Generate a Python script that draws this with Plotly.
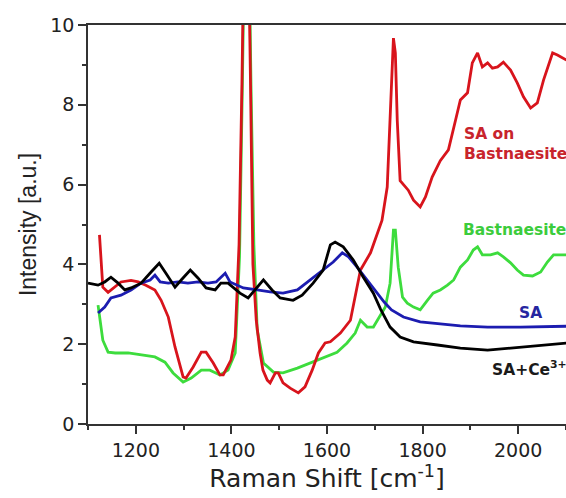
import plotly.graph_objects as go

# SA on Bastnaesite (red)
red_x = [1124, 1131, 1142, 1169, 1190, 1205, 1221, 1240, 1253, 1268, 1282, 1293, 1299, 1305, 1320, 1337, 1347,
         1362, 1376, 1383, 1399, 1408, 1416, 1422, 1431, 1440, 1445, 1452, 1460, 1466, 1475, 1481, 1492, 1498,
         1508, 1523, 1540, 1554, 1569, 1582, 1596, 1607, 1628, 1649, 1663, 1670, 1691, 1705, 1715, 1726, 1732,
         1737, 1739, 1743, 1747, 1753, 1760, 1770, 1781, 1795, 1806, 1820, 1837, 1854, 1869, 1879, 1894, 1904,
         1915, 1925, 1936, 1946, 1957, 1969, 1984, 1998, 2011, 2026, 2040, 2053, 2072, 2082, 2101]
red_y = [4.74, 3.43, 3.3, 3.56, 3.6, 3.56, 3.48, 3.36, 3.1, 2.68, 1.93, 1.43, 1.18, 1.15, 1.43, 1.8, 1.8,
         1.53, 1.23, 1.23, 1.6, 2.18, 4.5, 8.5, 16.0, 8.5, 4.0, 2.6, 1.78, 1.35, 1.1, 1.03, 1.28, 1.28,
         1.03, 0.9, 0.78, 0.93, 1.35, 1.78, 2.03, 2.06, 2.28, 2.6, 3.43, 3.86, 4.29, 4.79, 5.1, 5.94, 7.6,
         9.3, 9.67, 9.3, 7.6, 6.1, 5.99, 5.86, 5.61, 5.44, 5.69, 6.19, 6.6, 6.87, 7.62, 8.12, 8.3, 9.05,
         9.3, 8.95, 9.05, 8.92, 8.95, 9.07, 8.87, 8.55, 8.2, 7.92, 8.05, 8.62, 9.3, 9.25, 9.12]

# Bastnaesite (green)
green_x = [1121, 1125, 1131, 1142, 1157, 1184, 1211, 1240, 1261, 1278, 1299, 1316, 1337, 1355, 1376, 1393,
           1408, 1417, 1423, 1432, 1441, 1447, 1454, 1467, 1488, 1508, 1538, 1565, 1592, 1621, 1642, 1659,
           1670, 1684, 1697, 1712, 1722, 1732, 1739, 1743, 1749, 1758, 1768, 1781, 1795, 1810, 1822, 1837,
           1852, 1865, 1879, 1894, 1906, 1915, 1925, 1942, 1957, 1969, 1984, 1998, 2011, 2030, 2047, 2061,
           2074, 2101]
green_y = [2.98, 2.6, 2.1, 1.8, 1.78, 1.78, 1.73, 1.68, 1.55, 1.28, 1.05, 1.15, 1.35, 1.35, 1.23, 1.35,
           1.78, 4.2, 8.5, 16.0, 8.5, 4.5, 2.36, 1.53, 1.3, 1.28, 1.4, 1.53, 1.68, 1.8, 2.03, 2.28,
           2.6, 2.43, 2.43, 2.73, 2.93, 3.53, 4.86, 4.86, 3.93, 3.18, 3.03, 2.93, 2.86, 3.1, 3.28, 3.36,
           3.48, 3.61, 3.93, 4.11, 4.36, 4.44, 4.24, 4.24, 4.29, 4.19, 4.04, 3.86, 3.73, 3.71, 3.81, 4.06,
           4.24, 4.24]

# SA (blue)
blue_x = [1121, 1135, 1148, 1169, 1190, 1211, 1230, 1240, 1251, 1268, 1288, 1309, 1330, 1351, 1368, 1387,
          1397, 1414, 1425, 1454, 1481, 1508, 1538, 1565, 1592, 1613, 1632, 1645, 1663, 1684, 1705, 1720,
          1735, 1760, 1795, 1831, 1879, 1936, 2005, 2101]
blue_y = [2.78, 2.93, 3.16, 3.23, 3.36, 3.53, 3.61, 3.73, 3.56, 3.53, 3.56, 3.53, 3.56, 3.53, 3.56, 3.78,
          3.56, 3.48, 3.41, 3.36, 3.31, 3.28, 3.36, 3.61, 3.86, 4.06, 4.29, 4.19, 3.93, 3.61, 3.3, 3.05,
          2.86, 2.68, 2.56, 2.51, 2.46, 2.43, 2.43, 2.45]

# SA + Ce3+ (black)
black_x = [1100, 1121, 1135, 1148, 1163, 1177, 1190, 1211, 1232, 1249, 1263, 1282, 1295, 1314, 1330, 1347,
           1366, 1378, 1393, 1418, 1435, 1450, 1467, 1485, 1502, 1529, 1548, 1571, 1592, 1607, 1617, 1634,
           1655, 1676, 1697, 1712, 1732, 1753, 1781, 1831, 1879, 1936, 2005, 2101]
black_y = [3.53, 3.48, 3.56, 3.68, 3.53, 3.36, 3.41, 3.53, 3.81, 4.03, 3.78, 3.43, 3.61, 3.86, 3.66, 3.41,
           3.36, 3.53, 3.53, 3.28, 3.16, 3.36, 3.61, 3.36, 3.16, 3.1, 3.23, 3.53, 3.86, 4.49, 4.56, 4.44,
           4.11, 3.68, 3.28, 2.88, 2.43, 2.18, 2.06, 1.98, 1.9, 1.85, 1.93, 2.03]

x_ticks = [1200, 1400, 1600, 1800, 2000]
y_ticks = [0, 2, 4, 6, 8, 10]

fig = go.Figure()
fig.add_trace(go.Scatter(x=green_x, y=green_y, mode="lines", line=dict(color="#3ddc3d", width=2.8), name="Bastnaesite"))
fig.add_trace(go.Scatter(x=red_x, y=red_y, mode="lines", line=dict(color="#d8141c", width=2.8), name="SA on Bastnaesite"))
fig.add_trace(go.Scatter(x=blue_x, y=blue_y, mode="lines", line=dict(color="#1c1cb0", width=2.8), name="SA"))
fig.add_trace(go.Scatter(x=black_x, y=black_y, mode="lines", line=dict(color="#000000", width=2.8), name="SA+Ce3+"))

ann_font = dict(family="DejaVu Sans", size=15.5)
fig.add_annotation(x=1883, y=7.02, xref="x", yref="y", text="<b>SA on<br>Bastnaesite</b>", showarrow=False,
                   xanchor="left", yanchor="middle", align="left", font=dict(**ann_font, color="#c8242c"))
fig.add_annotation(x=1881, y=4.86, xref="x", yref="y", text="<b>Bastnaesite</b>", showarrow=False,
                   xanchor="left", yanchor="middle", font=dict(**ann_font, color="#3ccc3c"))
fig.add_annotation(x=1998, y=2.78, xref="x", yref="y", text="<b>SA</b>", showarrow=False,
                   xanchor="left", yanchor="middle", font=dict(**ann_font, color="#2626a0"))
fig.add_annotation(x=1942, y=1.40, xref="x", yref="y", text="<b>SA+Ce<sup>3+</sup></b>", showarrow=False,
                   xanchor="left", yanchor="middle", font=dict(**ann_font, color="#1a1a1a"))

axis_font = dict(family="DejaVu Sans", size=19, color="#222222")
fig.update_xaxes(range=[1100, 2100], tickvals=x_ticks, ticks="outside", ticklen=8, tickwidth=1.5,
                 tickcolor="#333333", showline=True, linecolor="#333333", linewidth=1.5, mirror=True,
                 showgrid=False, zeroline=False, tickfont=axis_font, automargin=False,
                 minor=dict(dtick=100, tick0=1100, ticks="outside", ticklen=4, tickwidth=1.5, tickcolor="#333333", showgrid=False),
                 title=dict(text="Raman Shift [cm<sup>-1</sup>]", font=dict(family="DejaVu Sans", size=25, color="#222222"), standoff=4))
fig.update_yaxes(range=[0, 10], tickvals=y_ticks, ticks="outside", ticklen=8, tickwidth=1.5,
                 tickcolor="#333333", showline=True, linecolor="#333333", linewidth=1.5,
                 showgrid=False, zeroline=False, tickfont=axis_font, automargin=False,
                 minor=dict(dtick=1, tick0=0, ticks="outside", ticklen=4, tickwidth=1.5, tickcolor="#333333", showgrid=False),
                 title=dict(text="Intensity [a.u.]", font=dict(family="Liberation Sans, Arial", size=23, color="#222222"), standoff=7))

fig.update_layout(width=566, height=498, margin=dict(l=88, r=0, t=25, b=74),
                  plot_bgcolor="white", paper_bgcolor="white", showlegend=False)
# remove the default page margin so the figure fills the window exactly, without scrollbars
fig.write_html("out.html", config={"displayModeBar": False},
               post_script="document.body.style.margin='0';document.body.style.overflow='hidden';")
